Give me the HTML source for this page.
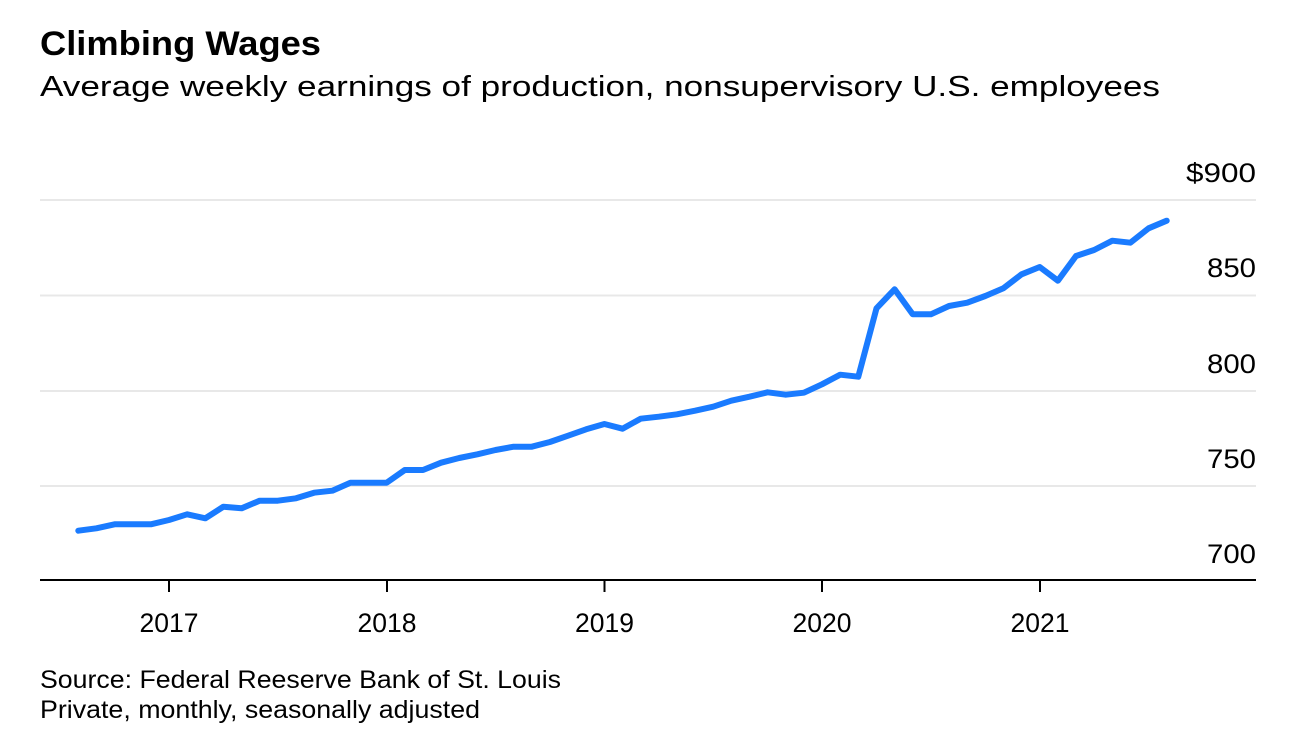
<!DOCTYPE html>
<html>
<head>
<meta charset="utf-8">
<style>
  html, body { margin: 0; padding: 0; background: #ffffff; }
  body { width: 1304px; height: 752px; overflow: hidden; }
  svg { display: block; }
  text { font-family: "Liberation Sans", Arial, sans-serif; fill: #000; }
</style>
</head>
<body>
<svg width="1304" height="752" viewBox="0 0 1304 752" xmlns="http://www.w3.org/2000/svg">
  <rect x="0" y="0" width="1304" height="752" fill="#ffffff"/>

  <!-- Title & subtitle -->
  <text x="40" y="55" font-size="34" font-weight="bold" textLength="281" lengthAdjust="spacingAndGlyphs">Climbing Wages</text>
  <text x="40" y="96" font-size="29" textLength="1120" lengthAdjust="spacingAndGlyphs">Average weekly earnings of production, nonsupervisory U.S. employees</text>

  <!-- Gridlines -->
  <g stroke="#e8e8e8" stroke-width="2">
    <line x1="40" y1="200" x2="1256" y2="200"/>
    <line x1="40" y1="295.5" x2="1256" y2="295.5"/>
    <line x1="40" y1="391" x2="1256" y2="391"/>
    <line x1="40" y1="486" x2="1256" y2="486"/>
  </g>

  <!-- Y labels -->
  <g font-size="27" text-anchor="end">
    <text x="1256" y="182" textLength="70" lengthAdjust="spacingAndGlyphs">$900</text>
    <text x="1256" y="277" textLength="49" lengthAdjust="spacingAndGlyphs">850</text>
    <text x="1256" y="373" textLength="49" lengthAdjust="spacingAndGlyphs">800</text>
    <text x="1256" y="468" textLength="49" lengthAdjust="spacingAndGlyphs">750</text>
    <text x="1256" y="563" textLength="49" lengthAdjust="spacingAndGlyphs">700</text>
  </g>

  <!-- Axis -->
  <line x1="40" y1="580" x2="1256" y2="580" stroke="#000" stroke-width="2"/>
  <g stroke="#000" stroke-width="2">
    <line x1="169" y1="580" x2="169" y2="592"/>
    <line x1="387" y1="580" x2="387" y2="592"/>
    <line x1="604.5" y1="580" x2="604.5" y2="592"/>
    <line x1="822" y1="580" x2="822" y2="592"/>
    <line x1="1040" y1="580" x2="1040" y2="592"/>
  </g>

  <!-- X labels -->
  <g font-size="27" text-anchor="middle">
    <text x="169" y="632" textLength="59" lengthAdjust="spacingAndGlyphs">2017</text>
    <text x="387" y="632" textLength="59" lengthAdjust="spacingAndGlyphs">2018</text>
    <text x="604.5" y="632" textLength="59" lengthAdjust="spacingAndGlyphs">2019</text>
    <text x="822" y="632" textLength="59" lengthAdjust="spacingAndGlyphs">2020</text>
    <text x="1040" y="632" textLength="59" lengthAdjust="spacingAndGlyphs">2021</text>
  </g>

  <!-- Data line -->
  <polyline fill="none" stroke="#1a7bff" stroke-width="6" stroke-linejoin="round" stroke-linecap="round"
    points="78.3,530.7 96.4,528.3 114.6,524.3 132.7,524.3 150.9,524.3 169.0,520 187.1,514.3 205.3,518.3 223.4,506.7 241.6,508.3 259.7,500.7 277.8,500.7 296.0,498.3 314.1,492.7 332.3,490.7 350.4,482.7 368.5,482.7 386.7,482.7 404.8,470 423.0,470 441.1,462.7 459.2,458 477.4,454.3 495.5,450 513.7,446.7 531.8,446.7 549.9,442 568.1,435.7 586.2,429.3 604.4,424 622.5,428.7 640.6,418.7 658.8,416.7 676.9,414.3 695.1,410.7 713.2,406.7 731.3,400.7 749.5,396.7 767.6,392.3 785.8,394.7 803.9,392.7 822.0,384.3 840.2,374.7 858.3,376.7 876.5,308.3 894.6,289.3 912.7,314.3 930.9,314.3 949.0,306 967.2,302.7 985.3,296 1003.4,288.3 1021.6,274.3 1039.7,267 1057.9,280.7 1076.0,256 1094.1,250 1112.3,240.7 1130.4,242.7 1148.6,228.3 1166.7,220.7"/>

  <!-- Footer -->
  <text x="40" y="688" font-size="25" textLength="521" lengthAdjust="spacingAndGlyphs">Source: Federal Reeserve Bank of St. Louis</text>
  <text x="40" y="718" font-size="25" textLength="440" lengthAdjust="spacingAndGlyphs">Private, monthly, seasonally adjusted</text>
</svg>
</body>
</html>
